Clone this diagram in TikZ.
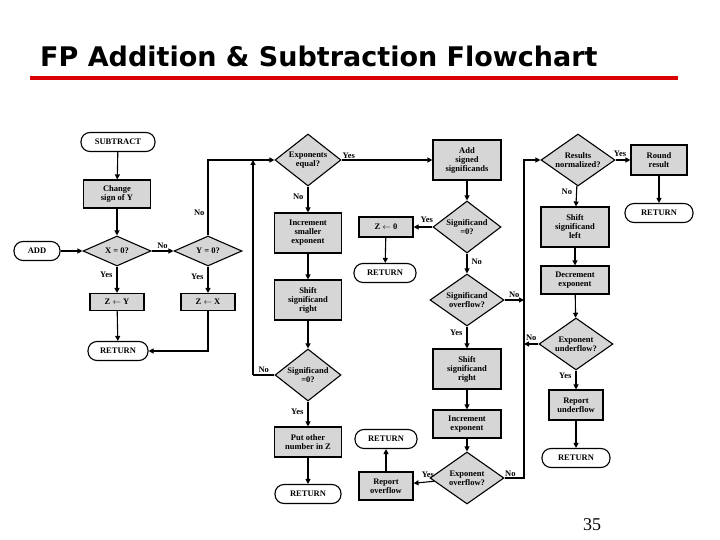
\documentclass[tikz,border=0pt]{standalone}
\usepackage{fontspec}
\setmainfont{Liberation Serif}
\newfontfamily\titlefont{DejaVu Sans}
\usetikzlibrary{shapes.geometric,arrows.meta}
\begin{document}
\begin{tikzpicture}[x=1pt,y=-1pt,
  every node/.style={font=\fontsize{8.5}{9}\selectfont\bfseries,align=center,inner sep=0pt},
  box/.style={draw,line width=1.1pt,fill=black!16,minimum width=#1,minimum height=28},
  term/.style={draw,line width=1.1pt,rounded corners=9pt,fill=white,minimum width=#1,minimum height=19},
  dia/.style={draw,line width=1.1pt,fill=black!16,diamond,aspect=1.4,minimum width=#1,minimum height=52},
  lbl/.style={font=\fontsize{8.5}{8.5}\selectfont\bfseries},
  ar/.style={line width=1.1pt,-{Triangle[length=5pt,width=5pt]}},
  ln/.style={line width=1.1pt}]
\useasboundingbox (0,0) rectangle (720,540);
\node[anchor=base west,font=\titlefont\fontsize{27}{27}\selectfont\bfseries] (title) at (40,67) {FP Addition \& Subtraction Flowchart};
\fill[red!85!black] (30,76) rectangle (678,80);
\node[font=\fontsize{18}{18}\selectfont] (pg) at (592,525) {35};
% left column
\node[term=74] (sub) at (118,142) {SUBTRACT};
\node[box=67] (chg) at (117,194) {Change\\sign of Y};
\node[dia=68,minimum height=30,aspect=2.3] (x0) at (117,251) {X = 0?};
\node[term=46] (add) at (37,251) {ADD};
\node[dia=68,minimum height=30,aspect=2.3] (y0) at (208,251) {Y = 0?};
\node[box=54,minimum height=17] (zy) at (117,302) {Z $\leftarrow$ Y};
\node[box=54,minimum height=17] (zx) at (208,302) {Z $\leftarrow$ X};
\node[term=60] (r1) at (118,351) {RETURN};
% second column
\node[dia=66] (expeq) at (308,160) {Exponents\\equal?};
\node[box=67,minimum height=40] (inc) at (308,233) {Increment\\smaller\\exponent};
\node[box=67,minimum height=40] (shr) at (308,300) {Shift\\significand\\right};
\node[dia=66] (s0a) at (308,375) {Significand\\=0?};
\node[box=67,minimum height=30] (put) at (308,442) {Put other\\number in Z};
\node[term=66] (r2) at (308,494) {RETURN};
% third column
\node[box=54,minimum height=20] (z0) at (386,227) {Z $\leftarrow$ 0};
\node[term=62] (r3) at (385,273) {RETURN};
\node[box=68,minimum height=40] (adds) at (467,160) {Add\\signed\\significands};
\node[dia=68] (s0b) at (467,227) {Significand\\=0?};
\node[dia=74] (sov) at (467,300) {Significand\\overflow?};
\node[box=68,minimum height=40] (shr2) at (467,369) {Shift\\significand\\right};
\node[box=68] (incx) at (467,424) {Increment\\exponent};
\node[dia=74] (eov) at (467,478) {Exponent\\overflow?};
\node[box=54] (rov) at (386,486) {Report\\overflow};
\node[term=62] (r4) at (386,439) {RETURN};
% right column
\node[dia=74] (norm) at (578,160) {Results\\normalized?};
\node[box=56,minimum height=30] (round) at (659,160) {Round\\result};
\node[term=68] (r5) at (659,213) {RETURN};
\node[box=68,minimum height=40] (shl) at (575,227) {Shift\\significand\\left};
\node[box=68] (dec) at (575,280) {Decrement\\exponent};
\node[dia=74] (eun) at (576,344) {Exponent\\underflow?};
\node[box=54,minimum height=30] (run) at (576,405) {Report\\underflow};
\node[term=68] (r6) at (576,458) {RETURN};
\coordinate (jl) at (253,160);
\coordinate (jr) at (524,160);
% connectors
\draw[ar] (sub) -- (chg);
\draw[ar] (chg) -- (x0);
\draw[ar] (add) -- (x0);
\draw[ar] (x0) -- node[lbl,above=2pt]{No} (y0);
\draw[ar] (x0) -- node[lbl,pos=0.3,left=4pt]{Yes} (zy);
\draw[ar] (y0) -- node[lbl,pos=0.4,left=4pt]{Yes} (zx);
\draw[ar] (zy) -- (r1);
\draw[ar] (zx.south) |- (r1.east);
\draw[ar] (y0.north) |- node[lbl,pos=0.15,left=3pt]{No} (expeq.west);
\draw[ar] (expeq) -- node[lbl,pos=0.08,above=1pt]{Yes} (adds);
\draw[ar] (expeq) -- node[lbl,pos=0.4,left=4pt]{No} (inc);
\draw[ar] (inc) -- (shr);
\draw[ar] (shr) -- (s0a);
\draw[ln] (s0a.west) -- node[lbl,above=2pt]{No} (s0a.west -| jl);
\draw[ar] (s0a.west -| jl) -- (jl);
\draw[ar] (s0a) -- node[lbl,pos=0.4,left=4pt]{Yes} (put);
\draw[ar] (put) -- (r2);
\draw[ar] (adds) -- (s0b);
\draw[ar] (s0b) -- node[lbl,pos=0.3,above=4pt]{Yes} (z0);
\draw[ar] (z0) -- (r3);
\draw[ar] (s0b) -- node[lbl,pos=0.4,right=4pt]{No} (sov);
\draw[ar] (sov.east) -- node[lbl,above=2pt]{No} (sov.east -| jr);
\draw[ar] (sov) -- node[lbl,pos=0.3,left=4pt]{Yes} (shr2);
\draw[ar] (shr2) -- (incx);
\draw[ar] (incx) -- (eov);
\draw[ar] (eov) -- node[lbl,pos=0.3,above=4pt]{Yes} (rov);
\draw[ar] (rov) -- (r4);
\draw[ar] (eov.east) -- node[lbl,pos=0.3,above=1pt]{No} (eov.east -| jr) -- (jr) -- (norm.west);
\draw[ar] (norm) -- node[lbl,pos=0.3,above=3pt]{Yes} (round);
\draw[ar] (round) -- (r5);
\draw[ar] (norm) -- node[lbl,pos=0.3,left=4pt]{No} (shl);
\draw[ar] (shl) -- (dec);
\draw[ar] (dec) -- (eun);
\draw[ar] (eun.west) -- node[lbl,above=3pt]{No} (eun.west -| jr);
\draw[ar] (eun) -- node[lbl,pos=0.3,left=4pt]{Yes} (run);
\draw[ar] (run) -- (r6);
\end{tikzpicture}
\end{document}
